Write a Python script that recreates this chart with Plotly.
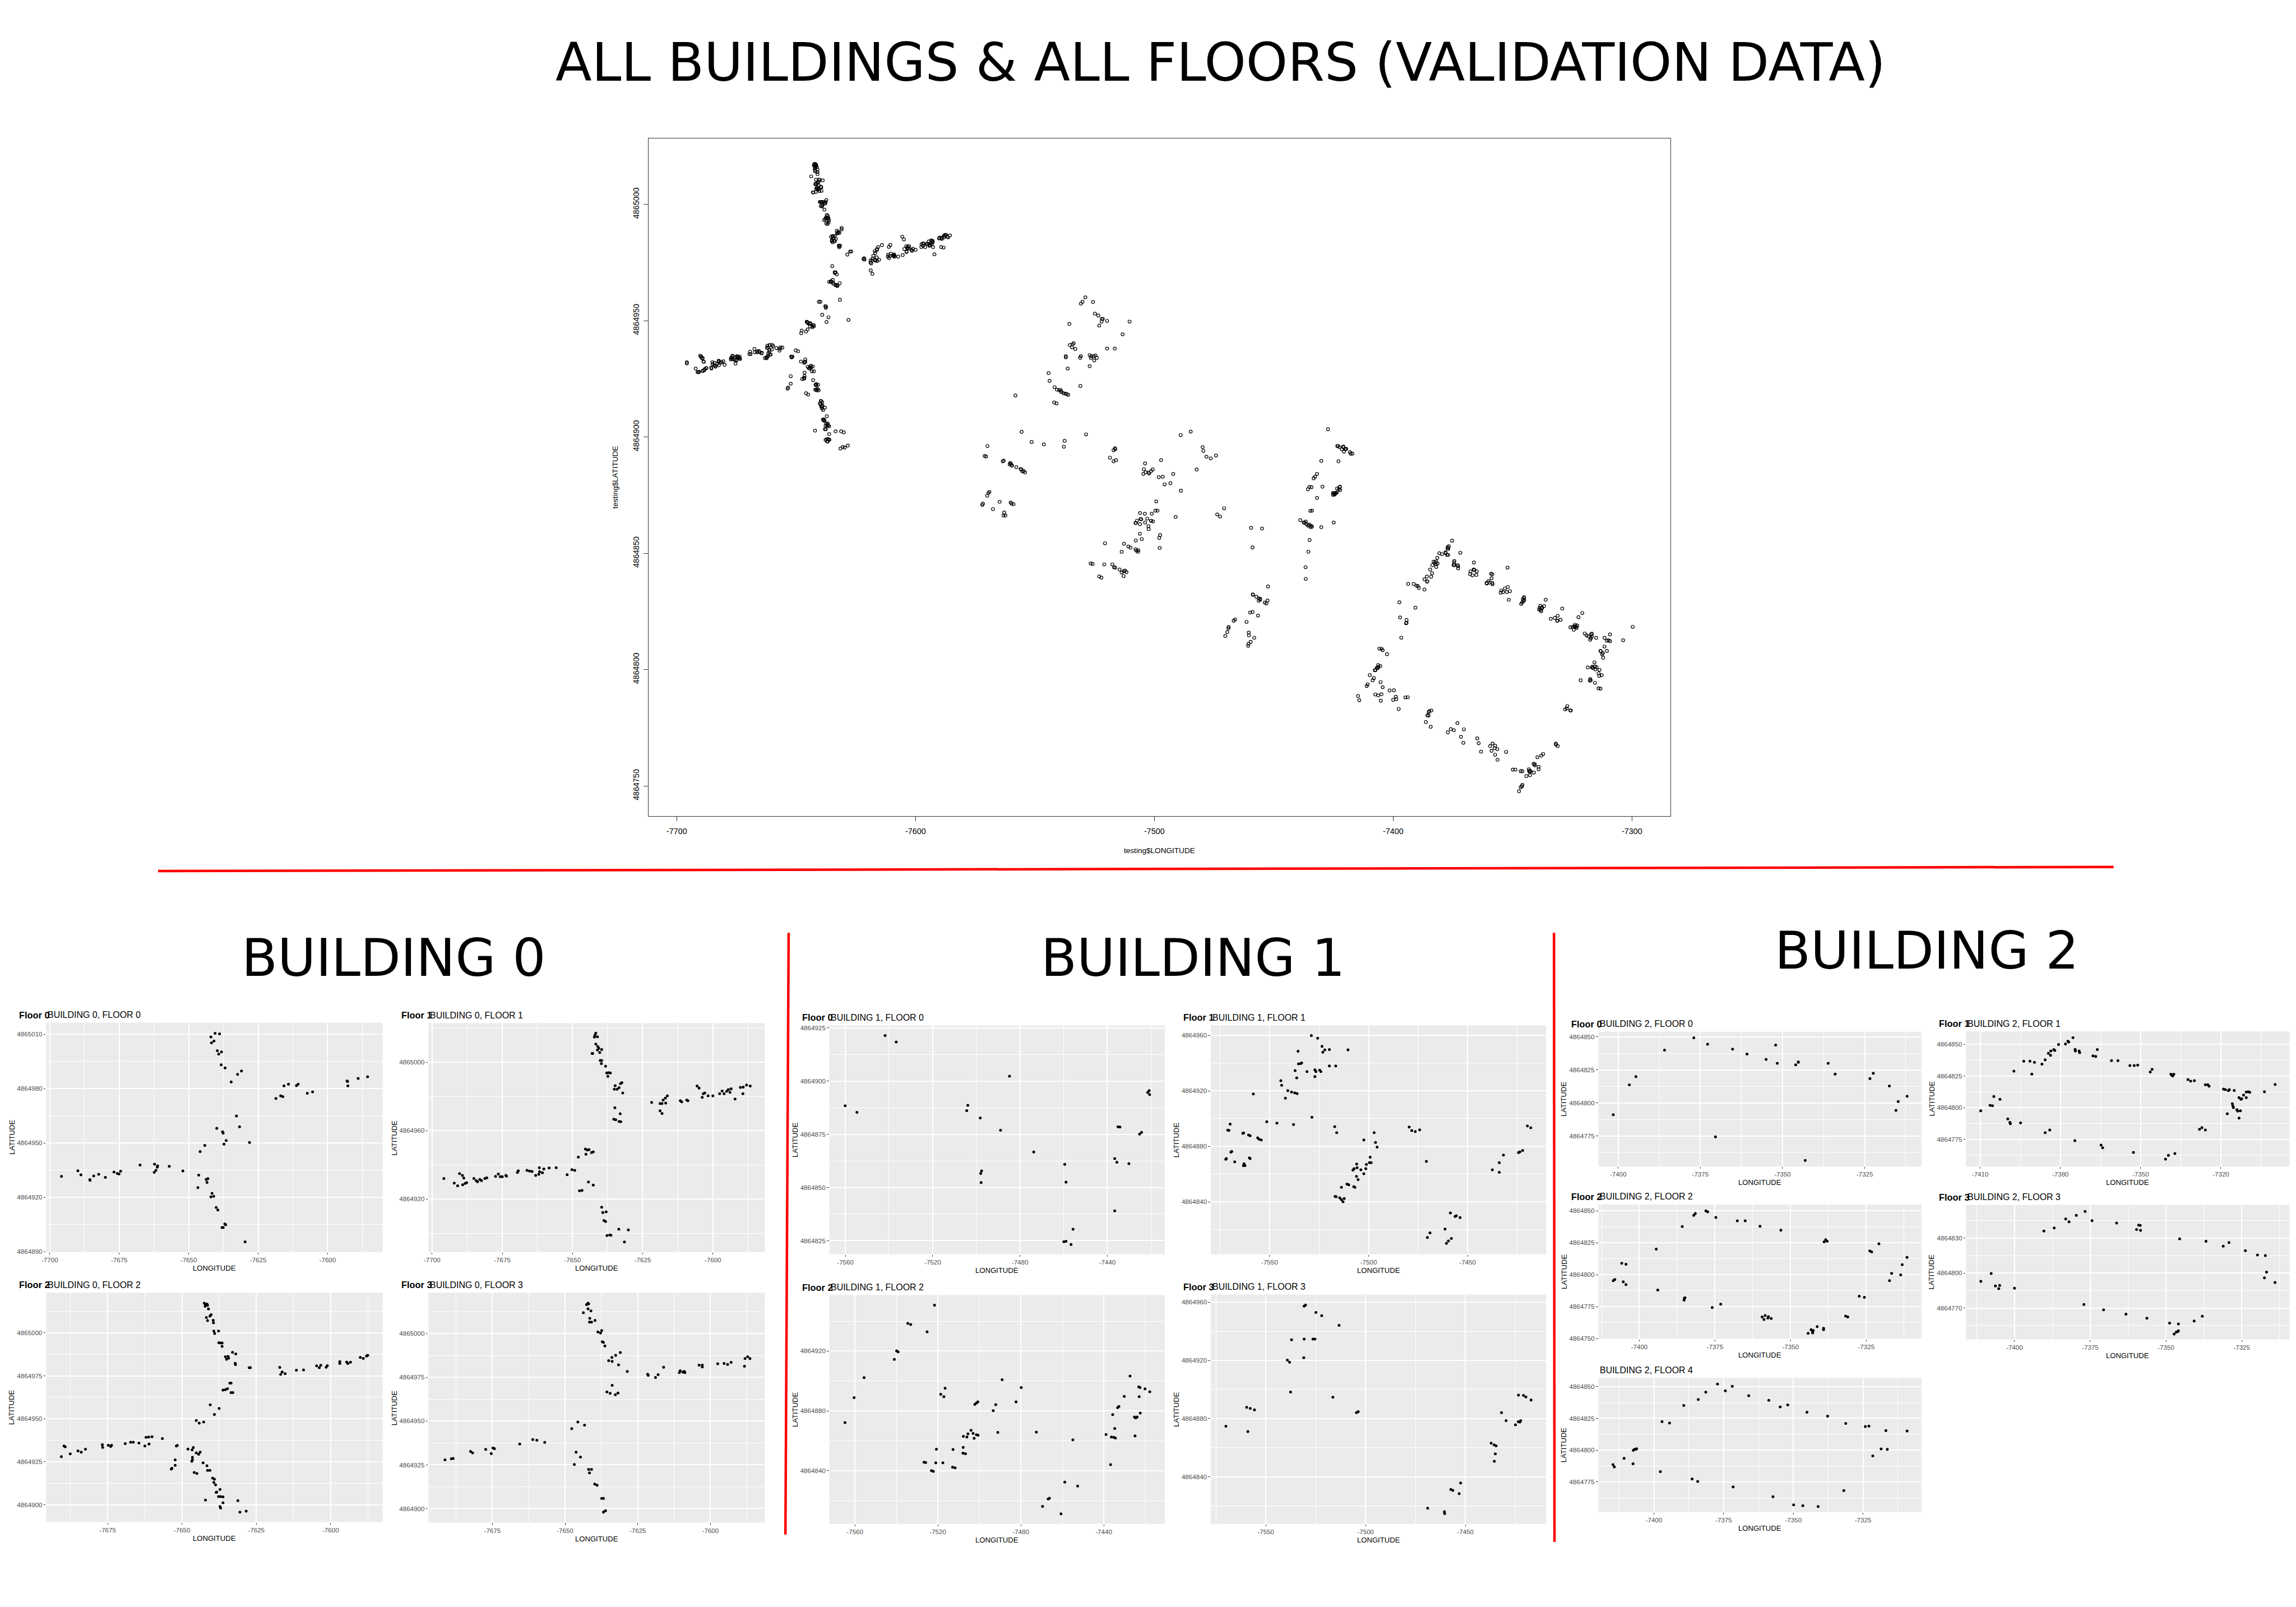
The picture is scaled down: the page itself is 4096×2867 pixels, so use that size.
import math
import plotly.graph_objects as go

# ---------------- DATA (longitude, latitude) ----------------
B0F0 = [(-7642.0, 4865008.6), (-7640.5, 4865010.6), (-7638.9, 4865010.3), (-7641.8, 4865005.3), (-7640.9, 4865006.3),
        (-7639.7, 4865001.0), (-7638.2, 4865000.3), (-7639.2, 4864999.1), (-7638.3, 4864993.2), (-7636.9, 4864991.5),
        (-7631.0, 4864989.8), (-7632.4, 4864987.9), (-7634.7, 4864983.7), (-7618.6, 4864974.6), (-7616.9, 4864976.1),
        (-7616.1, 4864975.6), (-7615.7, 4864981.6), (-7614.1, 4864982.5), (-7611.2, 4864981.7), (-7610.6, 4864982.5),
        (-7607.3, 4864977.5), (-7605.4, 4864978.2), (-7593.0, 4864984.3), (-7592.8, 4864984.0), (-7592.7, 4864981.6),
        (-7589.0, 4864985.7), (-7585.6, 4864986.6), (-7632.8, 4864964.9), (-7631.7, 4864959.0), (-7639.9, 4864958.1),
        (-7637.8, 4864956.2), (-7637.6, 4864955.5), (-7636.5, 4864951.4), (-7637.3, 4864949.4), (-7628.1, 4864950.3),
        (-7644.2, 4864948.7), (-7645.9, 4864945.3), (-7695.8, 4864931.6), (-7689.9, 4864934.7), (-7688.8, 4864932.4),
        (-7685.6, 4864929.8), (-7685.5, 4864929.4), (-7684.2, 4864931.8), (-7682.4, 4864932.7), (-7680.0, 4864931.0),
        (-7676.9, 4864934.0), (-7675.7, 4864933.2), (-7675.1, 4864932.9), (-7674.5, 4864934.4), (-7667.5, 4864937.8),
        (-7662.3, 4864938.3), (-7661.2, 4864937.4), (-7661.3, 4864936.7), (-7662.4, 4864933.8), (-7661.8, 4864934.9),
        (-7657.0, 4864937.1), (-7652.1, 4864934.6), (-7646.4, 4864932.3), (-7643.7, 4864929.9), (-7643.1, 4864930.3),
        (-7643.4, 4864928.2), (-7646.7, 4864925.4), (-7641.6, 4864922.2), (-7642.0, 4864920.3), (-7641.0, 4864920.6),
        (-7640.1, 4864914.4), (-7639.5, 4864913.0), (-7638.0, 4864903.3), (-7637.6, 4864903.3), (-7637.0, 4864905.3),
        (-7636.7, 4864904.9), (-7629.7, 4864895.4)]

B0F1 = [(-7641.7, 4865017.0), (-7642.0, 4865015.8), (-7642.2, 4865014.7), (-7641.1, 4865014.9), (-7641.7, 4865010.6),
        (-7641.0, 4865009.2), (-7640.6, 4865008.2), (-7641.1, 4865007.2), (-7640.3, 4865005.7), (-7639.6, 4865007.4),
        (-7643.0, 4865005.1), (-7642.8, 4865005.1), (-7640.1, 4865001.0), (-7639.6, 4865001.0), (-7639.7, 4864999.2),
        (-7638.2, 4864997.7), (-7637.8, 4864993.7), (-7637.2, 4864993.9), (-7636.5, 4864993.7), (-7637.4, 4864991.8),
        (-7634.8, 4864986.3), (-7635.1, 4864984.2), (-7634.1, 4864984.2), (-7633.4, 4864985.1), (-7632.9, 4864987.5),
        (-7632.4, 4864988.1), (-7632.1, 4864982.0), (-7634.9, 4864973.4), (-7633.0, 4864969.9), (-7635.3, 4864966.7),
        (-7634.6, 4864966.4), (-7633.4, 4864965.4), (-7632.8, 4864965.2), (-7621.8, 4864976.5), (-7618.8, 4864975.9),
        (-7618.1, 4864975.9), (-7617.7, 4864977.9), (-7616.9, 4864979.1), (-7616.2, 4864980.4), (-7616.8, 4864976.1),
        (-7618.8, 4864971.6), (-7618.1, 4864970.1), (-7611.6, 4864977.5), (-7611.1, 4864976.9), (-7609.3, 4864977.9),
        (-7608.9, 4864977.5), (-7605.6, 4864986.1), (-7604.9, 4864984.9), (-7603.4, 4864981.6), (-7602.9, 4864982.0),
        (-7603.8, 4864979.5), (-7601.7, 4864980.4), (-7600.0, 4864980.4), (-7597.6, 4864981.6), (-7596.7, 4864983.2),
        (-7596.0, 4864981.6), (-7595.1, 4864983.0), (-7594.5, 4864984.0), (-7593.9, 4864982.4), (-7593.5, 4864984.5),
        (-7592.1, 4864978.5), (-7590.2, 4864985.3), (-7589.2, 4864985.5), (-7589.3, 4864981.6), (-7588.0, 4864986.7),
        (-7586.7, 4864986.1), (-7647.9, 4864944.6), (-7645.4, 4864949.3), (-7644.7, 4864948.7), (-7644.1, 4864948.9),
        (-7645.2, 4864946.2), (-7643.2, 4864947.2), (-7642.6, 4864947.6), (-7695.8, 4864932.1), (-7692.1, 4864929.4),
        (-7690.9, 4864927.8), (-7690.2, 4864934.9), (-7689.2, 4864933.9), (-7688.7, 4864932.3), (-7689.1, 4864928.4),
        (-7688.2, 4864929.2), (-7687.7, 4864929.6), (-7685.1, 4864932.1), (-7684.3, 4864930.8), (-7683.8, 4864930.2),
        (-7683.0, 4864931.5), (-7682.4, 4864930.8), (-7681.2, 4864932.1), (-7680.5, 4864932.5), (-7677.4, 4864933.3),
        (-7676.4, 4864934.7), (-7675.7, 4864933.1), (-7675.0, 4864933.1), (-7673.7, 4864933.9), (-7673.5, 4864933.5),
        (-7669.6, 4864935.6), (-7669.3, 4864936.6), (-7666.2, 4864936.8), (-7665.3, 4864936.4), (-7664.4, 4864936.2),
        (-7663.1, 4864933.9), (-7662.0, 4864934.5), (-7661.8, 4864938.4), (-7661.7, 4864936.0), (-7660.7, 4864935.4),
        (-7660.2, 4864937.6), (-7658.3, 4864938.2), (-7655.8, 4864938.4), (-7651.9, 4864934.3), (-7650.2, 4864937.2),
        (-7649.2, 4864936.8), (-7647.5, 4864924.9), (-7646.6, 4864925.1), (-7644.3, 4864930.0), (-7642.6, 4864928.2),
        (-7639.6, 4864915.3), (-7639.2, 4864912.2), (-7638.0, 4864912.6), (-7638.8, 4864907.5), (-7638.2, 4864906.9),
        (-7637.7, 4864898.7), (-7636.7, 4864899.1), (-7636.3, 4864898.9), (-7633.5, 4864902.4), (-7630.1, 4864902.0),
        (-7631.5, 4864895.0)]

B0F2 = [(-7642.5, 4865017.2), (-7642.1, 4865016.4), (-7641.6, 4865016.7), (-7641.4, 4865016.0), (-7642.2, 4865015.4),
        (-7641.1, 4865013.9), (-7640.6, 4865009.7), (-7640.2, 4865010.5), (-7641.8, 4865008.9), (-7641.4, 4865007.1),
        (-7639.5, 4865007.3), (-7639.4, 4865005.8), (-7639.3, 4865001.0), (-7639.0, 4864999.6), (-7637.7, 4865001.0),
        (-7637.6, 4864994.2), (-7637.0, 4864994.1), (-7636.5, 4864994.1), (-7636.5, 4864992.1), (-7633.0, 4864988.6),
        (-7631.9, 4864987.7), (-7635.4, 4864986.1), (-7635.0, 4864984.6), (-7634.5, 4864986.3), (-7634.3, 4864985.3),
        (-7632.1, 4864982.3), (-7632.0, 4864981.5), (-7627.4, 4864979.7), (-7627.0, 4864979.7), (-7617.1, 4864979.9),
        (-7616.8, 4864975.8), (-7616.3, 4864977.2), (-7615.3, 4864976.2), (-7611.5, 4864978.3), (-7609.1, 4864978.4),
        (-7604.7, 4864980.8), (-7603.8, 4864979.7), (-7603.3, 4864981.1), (-7601.5, 4864980.0), (-7601.1, 4864980.9),
        (-7596.9, 4864983.2), (-7596.9, 4864982.2), (-7594.6, 4864983.0), (-7594.2, 4864982.2), (-7593.3, 4864982.9),
        (-7590.0, 4864985.7), (-7589.0, 4864985.1), (-7587.9, 4864986.5), (-7587.5, 4864986.9), (-7633.5, 4864970.8),
        (-7633.9, 4864970.8), (-7636.2, 4864966.7), (-7635.4, 4864966.9), (-7634.7, 4864967.5), (-7633.5, 4864965.2),
        (-7632.9, 4864965.2), (-7640.5, 4864958.1), (-7637.5, 4864956.0), (-7639.1, 4864952.5), (-7645.2, 4864949.0),
        (-7644.2, 4864947.5), (-7642.7, 4864948.1), (-7690.6, 4864928.0), (-7689.7, 4864934.2), (-7689.3, 4864933.7),
        (-7687.6, 4864929.6), (-7685.0, 4864931.3), (-7683.9, 4864930.6), (-7682.5, 4864932.3), (-7676.8, 4864934.9),
        (-7676.7, 4864933.4), (-7674.8, 4864934.6), (-7674.0, 4864933.9), (-7673.7, 4864934.6), (-7669.1, 4864935.6),
        (-7667.3, 4864936.4), (-7666.4, 4864936.4), (-7664.5, 4864935.9), (-7662.5, 4864934.2), (-7662.1, 4864939.2),
        (-7661.2, 4864939.4), (-7661.1, 4864935.3), (-7660.1, 4864939.6), (-7656.6, 4864938.5), (-7651.9, 4864934.2),
        (-7651.6, 4864934.5), (-7652.3, 4864926.1), (-7652.3, 4864922.9), (-7653.6, 4864920.7), (-7653.4, 4864921.2),
        (-7648.0, 4864932.4), (-7646.6, 4864931.9), (-7646.2, 4864933.3), (-7646.5, 4864927.6), (-7646.7, 4864925.3),
        (-7646.5, 4864926.1), (-7645.2, 4864930.2), (-7644.4, 4864929.4), (-7643.9, 4864930.6), (-7645.9, 4864918.8),
        (-7645.0, 4864918.2), (-7642.9, 4864924.4), (-7641.6, 4864922.7), (-7641.4, 4864920.0), (-7640.6, 4864920.0),
        (-7639.7, 4864915.5), (-7639.1, 4864914.9), (-7639.3, 4864913.0), (-7638.7, 4864911.6), (-7637.2, 4864908.9),
        (-7638.5, 4864907.2), (-7638.3, 4864907.4), (-7637.7, 4864904.8), (-7637.0, 4864904.8), (-7636.2, 4864904.6),
        (-7636.2, 4864901.2), (-7637.2, 4864899.0), (-7637.0, 4864898.1), (-7642.1, 4864902.7), (-7631.2, 4864902.4),
        (-7630.5, 4864895.7), (-7628.4, 4864896.3)]

B0F3 = [(-7642.1, 4865017.4), (-7642.6, 4865016.6), (-7641.9, 4865017.0), (-7642.1, 4865014.2), (-7641.1, 4865013.0),
        (-7643.7, 4865012.0), (-7641.5, 4865008.8), (-7641.6, 4865006.6), (-7640.9, 4865006.6), (-7639.7, 4865007.6),
        (-7638.7, 4865001.0), (-7637.8, 4865000.4), (-7637.4, 4865001.8), (-7637.2, 4864995.4), (-7636.8, 4864995.0),
        (-7636.3, 4864993.0), (-7635.0, 4864984.6), (-7633.9, 4864986.4), (-7633.8, 4864984.2), (-7632.6, 4864987.6),
        (-7631.6, 4864982.2), (-7631.0, 4864989.2), (-7628.6, 4864978.4), (-7635.6, 4864966.7), (-7634.5, 4864965.9),
        (-7633.8, 4864970.5), (-7632.7, 4864965.1), (-7631.8, 4864966.1), (-7621.6, 4864976.8), (-7621.4, 4864976.2),
        (-7618.9, 4864975.0), (-7618.0, 4864976.6), (-7616.1, 4864980.8), (-7610.7, 4864977.8), (-7610.4, 4864978.8),
        (-7609.5, 4864978.0), (-7609.0, 4864978.4), (-7608.8, 4864977.8), (-7603.9, 4864982.0), (-7602.8, 4864982.0),
        (-7602.8, 4864981.0), (-7597.5, 4864982.8), (-7595.3, 4864983.0), (-7594.1, 4864982.4), (-7592.9, 4864983.6),
        (-7588.3, 4864981.4), (-7588.1, 4864985.8), (-7587.2, 4864986.8), (-7586.4, 4864985.8), (-7647.7, 4864945.7),
        (-7645.6, 4864949.5), (-7643.3, 4864947.7), (-7691.3, 4864927.9), (-7689.1, 4864928.5), (-7688.5, 4864928.7),
        (-7682.5, 4864932.7), (-7681.8, 4864931.9), (-7677.3, 4864933.9), (-7675.4, 4864931.5), (-7674.8, 4864934.7),
        (-7674.3, 4864934.3), (-7665.6, 4864936.9), (-7661.1, 4864939.5), (-7659.7, 4864939.1), (-7657.0, 4864937.9),
        (-7646.2, 4864932.3), (-7644.7, 4864929.5), (-7646.8, 4864925.2), (-7641.9, 4864922.4), (-7640.9, 4864922.4),
        (-7641.6, 4864920.4), (-7639.8, 4864914.0), (-7639.0, 4864913.4), (-7637.4, 4864905.8), (-7636.8, 4864905.8),
        (-7636.8, 4864898.0), (-7636.1, 4864898.8)]

B1F0 = [(-7541.8, 4864921.4), (-7536.7, 4864918.4), (-7560.1, 4864888.4), (-7554.7, 4864885.3), (-7503.9, 4864888.6),
        (-7504.4, 4864886.1), (-7498.2, 4864882.7), (-7484.8, 4864902.3), (-7488.9, 4864876.9), (-7473.7, 4864866.7),
        (-7497.6, 4864857.8), (-7498.0, 4864856.6), (-7497.8, 4864852.3), (-7459.5, 4864860.9), (-7458.9, 4864852.5),
        (-7455.7, 4864830.4), (-7459.9, 4864824.5), (-7458.9, 4864824.7), (-7456.6, 4864823.2), (-7436.6, 4864863.6),
        (-7435.6, 4864861.9), (-7430.1, 4864861.2), (-7436.6, 4864839.0), (-7435.1, 4864878.5), (-7434.2, 4864878.4),
        (-7425.2, 4864875.1), (-7424.3, 4864875.9), (-7421.5, 4864894.7), (-7420.8, 4864895.5), (-7420.6, 4864893.7)]

B1F1 = [(-7528.9, 4864960.0), (-7525.7, 4864958.0), (-7523.5, 4864952.2), (-7523.1, 4864947.9), (-7522.1, 4864949.6),
        (-7519.8, 4864949.9), (-7510.4, 4864949.6), (-7535.6, 4864948.6), (-7535.4, 4864939.5), (-7534.3, 4864939.8),
        (-7533.8, 4864940.3), (-7537.1, 4864934.7), (-7536.3, 4864929.4), (-7531.1, 4864934.0), (-7527.1, 4864935.2),
        (-7526.6, 4864934.0), (-7527.1, 4864930.4), (-7524.7, 4864935.0), (-7524.1, 4864934.0), (-7519.8, 4864938.0),
        (-7516.6, 4864938.0), (-7544.3, 4864927.4), (-7543.9, 4864924.1), (-7540.8, 4864920.3), (-7538.9, 4864919.3),
        (-7537.3, 4864918.6), (-7536.1, 4864918.1), (-7542.0, 4864914.8), (-7528.6, 4864901.1), (-7558.2, 4864917.8),
        (-7551.4, 4864897.8), (-7546.3, 4864896.8), (-7537.9, 4864895.8), (-7569.9, 4864896.1), (-7571.1, 4864891.8),
        (-7570.5, 4864891.6), (-7563.5, 4864889.5), (-7563.1, 4864889.8), (-7560.6, 4864888.2), (-7559.8, 4864887.7),
        (-7556.0, 4864886.2), (-7555.3, 4864885.2), (-7554.2, 4864884.7), (-7569.1, 4864876.4), (-7569.5, 4864875.9),
        (-7571.8, 4864871.3), (-7572.1, 4864870.8), (-7567.6, 4864869.0), (-7562.9, 4864867.5), (-7563.2, 4864866.2),
        (-7562.4, 4864866.2), (-7560.2, 4864871.8), (-7559.8, 4864871.3), (-7517.1, 4864894.3), (-7516.1, 4864890.0),
        (-7502.4, 4864884.7), (-7497.2, 4864890.0), (-7496.5, 4864882.9), (-7495.7, 4864879.6), (-7499.2, 4864872.3),
        (-7499.6, 4864868.3), (-7498.7, 4864868.3), (-7501.1, 4864867.0), (-7501.4, 4864864.0), (-7502.4, 4864860.4),
        (-7503.9, 4864863.2), (-7506.0, 4864867.3), (-7505.8, 4864864.7), (-7507.3, 4864864.0), (-7507.9, 4864863.0),
        (-7506.1, 4864858.4), (-7505.3, 4864856.1), (-7510.9, 4864852.9), (-7510.0, 4864852.4), (-7507.5, 4864851.1),
        (-7506.9, 4864850.6), (-7513.7, 4864850.6), (-7516.9, 4864844.0), (-7516.4, 4864843.8), (-7514.6, 4864843.0),
        (-7513.7, 4864841.7), (-7512.9, 4864840.2), (-7512.3, 4864842.5), (-7479.5, 4864894.0), (-7478.2, 4864891.5),
        (-7476.4, 4864890.8), (-7474.2, 4864892.0), (-7470.8, 4864869.3), (-7458.7, 4864832.1), (-7456.3, 4864829.6),
        (-7455.7, 4864830.1), (-7453.8, 4864828.8), (-7461.4, 4864820.5), (-7458.2, 4864813.7), (-7459.7, 4864811.9),
        (-7460.7, 4864810.2), (-7469.0, 4864817.7), (-7470.3, 4864814.4), (-7437.5, 4864863.2), (-7434.0, 4864868.3),
        (-7434.0, 4864861.4), (-7431.9, 4864873.8), (-7424.3, 4864875.6), (-7423.6, 4864876.1), (-7422.2, 4864877.1),
        (-7419.8, 4864894.8), (-7418.1, 4864893.5)]

B1F2 = [(-7521.6, 4864950.7), (-7534.5, 4864938.5), (-7533.1, 4864937.8), (-7525.2, 4864932.9), (-7539.9, 4864920.2),
        (-7539.2, 4864919.5), (-7541.0, 4864914.4), (-7555.6, 4864902.2), (-7560.4, 4864888.8), (-7564.8, 4864872.1),
        (-7516.5, 4864895.1), (-7518.6, 4864891.1), (-7517.1, 4864889.5), (-7502.2, 4864884.3), (-7501.4, 4864885.3),
        (-7500.7, 4864886.0), (-7493.3, 4864880.1), (-7492.1, 4864884.1), (-7489.0, 4864900.8), (-7491.1, 4864865.6),
        (-7482.3, 4864886.0), (-7479.8, 4864895.6), (-7472.5, 4864865.8), (-7507.7, 4864863.0), (-7506.0, 4864862.5),
        (-7505.5, 4864864.6), (-7504.0, 4864867.0), (-7503.0, 4864864.9), (-7502.5, 4864861.6), (-7501.4, 4864864.0),
        (-7500.6, 4864863.7), (-7507.8, 4864855.5), (-7507.9, 4864851.7), (-7506.7, 4864851.3), (-7512.7, 4864854.1),
        (-7520.7, 4864854.3), (-7526.7, 4864845.6), (-7525.9, 4864845.4), (-7521.0, 4864845.2), (-7517.6, 4864845.2),
        (-7512.9, 4864842.3), (-7511.7, 4864841.9), (-7523.1, 4864840.0), (-7522.2, 4864839.5), (-7469.5, 4864816.1),
        (-7466.8, 4864821.0), (-7466.2, 4864821.5), (-7460.6, 4864811.1), (-7458.8, 4864832.3), (-7452.6, 4864829.7),
        (-7454.9, 4864860.6), (-7438.9, 4864864.2), (-7436.3, 4864862.5), (-7435.1, 4864862.3), (-7434.4, 4864861.8),
        (-7434.7, 4864868.2), (-7435.7, 4864877.5), (-7436.7, 4864844.0), (-7433.3, 4864882.2), (-7432.7, 4864882.9),
        (-7430.1, 4864889.7), (-7427.3, 4864903.3), (-7425.2, 4864875.9), (-7424.6, 4864875.2), (-7423.9, 4864875.9),
        (-7422.4, 4864878.5), (-7424.9, 4864863.2), (-7422.9, 4864889.5), (-7423.1, 4864896.1), (-7422.5, 4864895.6),
        (-7420.1, 4864894.7), (-7417.8, 4864892.8)]

B1F3 = [(-7530.8, 4864957.3), (-7530.1, 4864958.1), (-7524.9, 4864953.0), (-7522.0, 4864950.8), (-7513.3, 4864944.1),
        (-7537.1, 4864934.2), (-7530.8, 4864934.7), (-7526.4, 4864934.7), (-7525.4, 4864934.7), (-7539.2, 4864920.2),
        (-7538.1, 4864918.8), (-7531.0, 4864921.9), (-7537.6, 4864898.3), (-7516.4, 4864894.7), (-7504.6, 4864884.1),
        (-7503.7, 4864884.8), (-7570.0, 4864874.7), (-7559.6, 4864887.7), (-7557.8, 4864887.0), (-7555.7, 4864886.0),
        (-7559.0, 4864871.1), (-7468.9, 4864818.3), (-7460.5, 4864815.9), (-7460.4, 4864814.7), (-7457.3, 4864831.3),
        (-7456.3, 4864830.6), (-7453.1, 4864828.4), (-7452.4, 4864835.7), (-7437.1, 4864863.1), (-7435.6, 4864861.9),
        (-7434.6, 4864861.2), (-7435.0, 4864855.7), (-7435.5, 4864850.6), (-7431.9, 4864884.1), (-7429.6, 4864878.6),
        (-7424.9, 4864875.7), (-7423.5, 4864877.8), (-7422.7, 4864877.6), (-7422.3, 4864878.6), (-7423.4, 4864896.1),
        (-7420.9, 4864895.9), (-7419.7, 4864894.9), (-7417.1, 4864892.8)]

B2F0 = [(-7401.5, 4864791.0), (-7396.6, 4864813.7), (-7394.6, 4864819.9), (-7385.9, 4864840.0), (-7377.0, 4864849.3),
        (-7372.8, 4864844.4), (-7370.4, 4864774.3), (-7365.2, 4864840.7), (-7360.8, 4864837.0), (-7355.0, 4864833.0),
        (-7352.1, 4864843.8), (-7351.6, 4864830.0), (-7346.0, 4864828.8), (-7345.2, 4864830.8), (-7345.2, 4864831.1),
        (-7343.1, 4864756.4), (-7336.1, 4864830.0), (-7334.0, 4864821.8), (-7323.4, 4864818.4), (-7322.4, 4864822.5),
        (-7317.5, 4864812.8), (-7314.8, 4864801.0), (-7315.5, 4864794.3), (-7312.1, 4864805.1)]

B2F1 = [(-7409.8, 4864797.6), (-7406.3, 4864801.9), (-7405.4, 4864801.5), (-7404.9, 4864808.9), (-7402.6, 4864806.6),
        (-7399.7, 4864791.1), (-7398.9, 4864788.3), (-7398.7, 4864787.3), (-7394.9, 4864788.0), (-7397.4, 4864828.9),
        (-7393.7, 4864836.8), (-7391.4, 4864836.8), (-7389.7, 4864835.9), (-7390.7, 4864826.6), (-7386.9, 4864834.4),
        (-7385.7, 4864837.9), (-7384.5, 4864843.0), (-7383.6, 4864844.9), (-7383.7, 4864841.4), (-7382.5, 4864846.0),
        (-7382.1, 4864845.3), (-7380.7, 4864850.0), (-7378.1, 4864850.4), (-7377.2, 4864852.6), (-7376.9, 4864851.9),
        (-7375.3, 4864855.4), (-7374.5, 4864846.1), (-7374.4, 4864844.9), (-7373.0, 4864844.9), (-7372.8, 4864843.5),
        (-7366.2, 4864846.0), (-7367.8, 4864841.0), (-7366.8, 4864840.5), (-7385.7, 4864780.3), (-7384.0, 4864782.4),
        (-7374.6, 4864773.9), (-7364.8, 4864770.4), (-7364.2, 4864768.3), (-7352.7, 4864764.6), (-7360.9, 4864837.2),
        (-7358.5, 4864837.2), (-7354.0, 4864833.3), (-7352.4, 4864833.3), (-7351.1, 4864833.7), (-7346.4, 4864828.2),
        (-7345.7, 4864830.3), (-7338.7, 4864826.5), (-7338.3, 4864825.6), (-7337.6, 4864826.5), (-7338.0, 4864825.1),
        (-7340.7, 4864759.3), (-7339.6, 4864762.3), (-7337.2, 4864763.7), (-7332.3, 4864822.2), (-7331.3, 4864821.0),
        (-7329.9, 4864821.4), (-7325.8, 4864818.2), (-7324.9, 4864818.2), (-7324.4, 4864817.1), (-7328.0, 4864782.9),
        (-7327.1, 4864784.3), (-7325.8, 4864782.4), (-7319.0, 4864814.7), (-7318.3, 4864814.3), (-7317.2, 4864813.5),
        (-7316.8, 4864814.3), (-7315.0, 4864813.6), (-7317.6, 4864795.2), (-7315.7, 4864803.1), (-7315.5, 4864801.3),
        (-7315.3, 4864800.1), (-7314.0, 4864798.4), (-7313.7, 4864797.3), (-7312.7, 4864797.6), (-7313.2, 4864791.8),
        (-7313.2, 4864808.0), (-7312.5, 4864806.6), (-7312.2, 4864807.1), (-7311.5, 4864809.9), (-7310.5, 4864808.0),
        (-7310.5, 4864812.4), (-7309.8, 4864812.6), (-7309.2, 4864812.2), (-7303.7, 4864812.6), (-7299.7, 4864818.4)]

B2F2 = [(-7408.6, 4864795.4), (-7408.1, 4864796.3), (-7405.8, 4864809.0), (-7404.4, 4864808.3), (-7405.3, 4864794.6),
        (-7404.4, 4864792.4), (-7394.4, 4864820.1), (-7393.9, 4864788.1), (-7385.8, 4864837.8), (-7385.2, 4864780.2),
        (-7385.1, 4864781.7), (-7384.9, 4864782.1), (-7382.0, 4864846.5), (-7381.5, 4864848.0), (-7378.0, 4864850.0),
        (-7377.4, 4864849.3), (-7374.7, 4864844.9), (-7375.9, 4864774.4), (-7373.1, 4864777.0), (-7367.6, 4864842.2),
        (-7365.0, 4864842.2), (-7360.1, 4864838.0), (-7353.2, 4864834.9), (-7359.4, 4864767.1), (-7358.8, 4864765.1),
        (-7358.4, 4864768.2), (-7357.5, 4864766.2), (-7357.3, 4864767.3), (-7356.4, 4864765.8), (-7344.2, 4864754.2),
        (-7343.2, 4864757.1), (-7342.8, 4864756.0), (-7342.7, 4864754.6), (-7342.5, 4864756.4), (-7341.2, 4864759.5),
        (-7339.1, 4864758.2), (-7339.1, 4864757.1), (-7338.9, 4864825.8), (-7338.4, 4864827.4), (-7337.9, 4864826.3),
        (-7331.8, 4864767.7), (-7331.1, 4864767.1), (-7327.3, 4864783.3), (-7325.6, 4864782.4), (-7323.8, 4864818.7),
        (-7323.2, 4864817.9), (-7320.8, 4864824.3), (-7317.3, 4864795.4), (-7316.6, 4864801.2), (-7313.6, 4864799.9),
        (-7313.1, 4864807.9), (-7311.5, 4864813.6)]

B2F3 = [(-7411.1, 4864792.9), (-7407.7, 4864799.7), (-7406.3, 4864788.9), (-7405.2, 4864786.6), (-7404.9, 4864789.4),
        (-7400.0, 4864787.0), (-7390.3, 4864836.1), (-7386.9, 4864838.8), (-7383.1, 4864846.4), (-7382.0, 4864844.1),
        (-7379.6, 4864849.6), (-7376.7, 4864853.0), (-7374.4, 4864845.0), (-7366.3, 4864843.0), (-7359.7, 4864837.4),
        (-7359.0, 4864841.2), (-7358.5, 4864840.9), (-7358.4, 4864836.7), (-7377.1, 4864773.0), (-7370.6, 4864768.5),
        (-7363.2, 4864764.7), (-7356.3, 4864761.2), (-7348.8, 4864757.0), (-7347.3, 4864747.7), (-7346.6, 4864749.4),
        (-7346.1, 4864749.8), (-7345.9, 4864750.4), (-7345.9, 4864756.3), (-7345.5, 4864829.4), (-7340.7, 4864758.8),
        (-7338.0, 4864763.0), (-7336.8, 4864827.3), (-7331.1, 4864823.1), (-7329.2, 4864826.2), (-7323.8, 4864819.3),
        (-7319.8, 4864815.5), (-7317.2, 4864815.1), (-7316.8, 4864800.9), (-7317.5, 4864795.9), (-7314.0, 4864791.9)]

B2F4 = [(-7414.7, 4864788.6), (-7414.2, 4864786.8), (-7410.7, 4864793.6), (-7407.5, 4864789.3), (-7407.4, 4864799.8),
        (-7406.9, 4864800.7), (-7406.5, 4864800.7), (-7406.2, 4864801.1), (-7397.7, 4864783.1), (-7397.1, 4864822.4),
        (-7394.4, 4864821.3), (-7389.3, 4864835.1), (-7386.3, 4864777.4), (-7384.3, 4864775.4), (-7384.1, 4864839.9),
        (-7381.4, 4864845.6), (-7377.2, 4864852.0), (-7374.4, 4864846.7), (-7371.9, 4864850.2), (-7371.6, 4864771.1),
        (-7366.0, 4864842.8), (-7358.8, 4864839.2), (-7357.3, 4864763.4), (-7354.7, 4864834.0), (-7352.0, 4864835.5),
        (-7349.9, 4864757.0), (-7346.6, 4864756.3), (-7341.1, 4864755.7), (-7345.1, 4864829.8), (-7337.7, 4864826.7),
        (-7331.9, 4864768.2), (-7331.2, 4864821.0), (-7324.2, 4864818.6), (-7322.9, 4864818.9), (-7321.5, 4864795.4),
        (-7318.5, 4864800.9), (-7316.3, 4864800.6), (-7316.8, 4864815.4), (-7309.2, 4864815.1)]

MAIN_XTICKS = [-7700, -7600, -7500, -7400, -7300]
MAIN_YTICKS = [4864750, 4864800, 4864850, 4864900, 4864950, 4865000]

MAIN_TITLE = "ALL BUILDINGS &amp; ALL FLOORS (VALIDATION DATA)"
BUILDING_HEADINGS = ["BUILDING 0", "BUILDING 1", "BUILDING 2"]

# ---------------- LAYOUT (reference pixel geometry, 5000 x 3500) ----------------
S = 0.819
W, H = 4096, 2867
RW, RH = 5000.0, 3500.0


def px(x):
    return x / RW


def py(y):
    return 1 - y / RH


# (points, title, floor-label, panel box l,t,r,b, xrange, yrange, xstep, ystep)
PANELS = [
    (B0F0, "BUILDING 0, FLOOR 0", "Floor 0", (91, 2231, 825, 2732), (-7701.3, -7580.2), (4864889.8, 4865016.5), 25, 30),
    (B0F1, "BUILDING 0, FLOOR 1", "Floor 1", (925, 2232, 1659, 2732), (-7701.3, -7581.5), (4864889.1, 4865022.9), 25, 40),
    (B0F2, "BUILDING 0, FLOOR 2", "Floor 2", (91, 2821, 825, 3322), (-7695.7, -7582.5), (4864889.9, 4865023.3), 25, 25),
    (B0F3, "BUILDING 0, FLOOR 3", "Floor 3", (925, 2821, 1659, 3323), (-7697.0, -7581.3), (4864892.0, 4865023.4), 25, 25),
    (B1F0, "BUILDING 1, FLOOR 0", "Floor 0", (1800, 2237, 2532, 2737), (-7567.3, -7413.6), (4864818.6, 4864926.2), 40, 25),
    (B1F1, "BUILDING 1, FLOOR 1", "Floor 1", (2632, 2237, 3364, 2737), (-7579.7, -7410.3), (4864802.3, 4864967.3), 50, 40),
    (B1F2, "BUILDING 1, FLOOR 2", "Floor 2", (1800, 2826, 2532, 3326), (-7572.3, -7410.5), (4864804.3, 4864957.5), 40, 40),
    (B1F3, "BUILDING 1, FLOOR 3", "Floor 3", (2632, 2825, 3364, 3326), (-7577.6, -7409.5), (4864807.5, 4864965.3), 50, 40),
    (B2F0, "BUILDING 2, FLOOR 0", "Floor 0", (3478, 2251, 4183, 2545), (-7406.0, -7307.7), (4864751.9, 4864853.9), 25, 25),
    (B2F1, "BUILDING 2, FLOOR 1", "Floor 1", (4280, 2250, 4986, 2545), (-7415.3, -7294.3), (4864753.6, 4864860.4), 30, 25),
    (B2F2, "BUILDING 2, FLOOR 2", "Floor 2", (3478, 2628, 4183, 2922), (-7413.5, -7306.7), (4864749.8, 4864855.1), 25, 25),
    (B2F3, "BUILDING 2, FLOOR 3", "Floor 3", (4280, 2629, 4986, 2923), (-7416.0, -7309.2), (4864743.0, 4864858.6), 25, 30),
    (B2F4, "BUILDING 2, FLOOR 4", None, (3478, 3007, 4183, 3300), (-7419.9, -7304.0), (4864751.3, 4864856.8), 25, 25),
]


def major_ticks(lo, hi, step):
    v = math.ceil(lo / step) * step
    out = []
    while v <= hi + 1e-9:
        out.append(v)
        v += step
    return out


def minor_ticks(lo, hi, step):
    v = math.floor(lo / step) * step + step / 2.0
    out = []
    while v <= hi + 1e-9:
        if v >= lo:
            out.append(v)
        v += step
    return out


fig = go.Figure()
layout = dict(
    width=W, height=H, autosize=False,
    margin=dict(l=0, r=0, t=0, b=0, pad=0),
    paper_bgcolor="white", plot_bgcolor="rgba(0,0,0,0)",
    showlegend=False,
    font=dict(family="Liberation Sans, Arial, sans-serif", color="black"),
)
shapes = []
annotations = []

# ---------------- main scatter (all buildings, all floors) ----------------
all_pts = B0F0 + B0F1 + B0F2 + B0F3 + B1F0 + B1F1 + B1F2 + B1F3 + B2F0 + B2F1 + B2F2 + B2F3 + B2F4
fig.add_trace(go.Scatter(
    x=[p[0] for p in all_pts], y=[p[1] for p in all_pts], mode="markers",
    marker=dict(symbol="circle-open", size=5.4, color="black", line=dict(width=1.2, color="black")),
    xaxis="x", yaxis="y", hoverinfo="skip"))

main_tick_font = dict(family="Liberation Sans, Arial, sans-serif", size=17.5 * S, color="black")
layout["xaxis"] = dict(
    domain=[px(1405), px(3635)], range=[-7711.9, -7283.9], anchor="y",
    tickmode="array", tickvals=MAIN_XTICKS, ticktext=[str(v) for v in MAIN_XTICKS],
    ticks="outside", ticklen=8, tickwidth=1, tickcolor="#333333", ticklabelstandoff=6,
    showline=True, mirror=True, linecolor="#333333", linewidth=1.3,
    showgrid=False, zeroline=False, tickfont=main_tick_font)
layout["yaxis"] = dict(
    domain=[py(1780), py(300)], range=[4864737.0, 4865028.3], anchor="x",
    tickmode="array", tickvals=MAIN_YTICKS, ticktext=[str(v) for v in MAIN_YTICKS],
    tickangle=-90, ticks="outside", ticklen=8, tickwidth=1, tickcolor="#333333", ticklabelstandoff=2,
    showline=True, mirror=True, linecolor="#333333", linewidth=1.3,
    showgrid=False, zeroline=False, tickfont=main_tick_font)

annotations.append(dict(text=MAIN_TITLE, x=px(2653), y=py(134), xref="paper", yref="paper",
                        xanchor="center", yanchor="middle", showarrow=False,
                        font=dict(family="DejaVu Sans", size=115.5 * S, color="black")))
annotations.append(dict(text="testing$LONGITUDE", x=px(2520), y=py(1855), xref="paper", yref="paper",
                        xanchor="center", yanchor="middle", showarrow=False,
                        font=dict(family="Liberation Sans", size=16.6 * S, color="black")))
annotations.append(dict(text="testing$LATITUDE", x=px(1332), y=py(1040), xref="paper", yref="paper",
                        xanchor="center", yanchor="middle", showarrow=False, textangle=-90,
                        font=dict(family="Liberation Sans", size=16.6 * S, color="black")))

# building headings
for text, cx, cy in zip(BUILDING_HEADINGS, [850, 2594, 4195], [2089, 2089, 2073]):
    annotations.append(dict(text=text, x=px(cx), y=py(cy), xref="paper", yref="paper",
                            xanchor="center", yanchor="middle", showarrow=False,
                            font=dict(family="DejaVu Sans", size=114 * S, color="black")))

# red separators
red = dict(color="#FF0000", width=4.5)
shapes.append(dict(type="line", xref="paper", yref="paper", x0=px(335), y0=py(1900), x1=px(4602), y1=py(1891), line=red))
shapes.append(dict(type="line", xref="paper", yref="paper", x0=px(1711), y0=py(2035), x1=px(1704), y1=py(3349), line=red))
shapes.append(dict(type="line", xref="paper", yref="paper", x0=px(3381), y0=py(2035), x1=px(3382), y1=py(3365), line=red))

# ---------------- ggplot-style small panels ----------------
tick_font = dict(family="Liberation Sans, Arial, sans-serif", size=14.2 * S, color="#4D4D4D")
for i, (pts, title, floor, box, xr, yr, xs, ys) in enumerate(PANELS):
    n = i + 2
    l, t, r, b = box
    xa, ya = "x%d" % n, "y%d" % n
    fig.add_trace(go.Scatter(
        x=[p[0] for p in pts], y=[p[1] for p in pts], mode="markers",
        marker=dict(symbol="circle", size=5, color="black"),
        xaxis=xa, yaxis=ya, hoverinfo="skip"))
    xt = major_ticks(xr[0], xr[1], xs)
    yt = major_ticks(yr[0], yr[1], ys)
    common = dict(showgrid=True, gridcolor="white", gridwidth=1.7, zeroline=False, showline=False,
                  ticks="outside", ticklen=3.5, tickwidth=1, tickcolor="#333333", tickfont=tick_font,
                  tickmode="array")
    layout["xaxis%d" % n] = dict(
        domain=[px(l), px(r)], range=list(xr), anchor=ya,
        tickvals=xt, ticktext=[str(int(round(v))) for v in xt],
        minor=dict(tickmode="array", tickvals=minor_ticks(xr[0], xr[1], xs), showgrid=True,
                   gridcolor="white", gridwidth=0.8, ticks=""),
        **common)
    layout["yaxis%d" % n] = dict(
        domain=[py(b), py(t)], range=list(yr), anchor=xa,
        tickvals=yt, ticktext=[str(int(round(v))) for v in yt],
        minor=dict(tickmode="array", tickvals=minor_ticks(yr[0], yr[1], ys), showgrid=True,
                   gridcolor="white", gridwidth=0.8, ticks=""),
        **common)
    shapes.append(dict(type="rect", xref="paper", yref="paper", x0=px(l), x1=px(r), y0=py(b), y1=py(t),
                       fillcolor="#EBEBEB", line=dict(width=0), layer="below"))
    annotations.append(dict(text=title, x=px(l + 1), y=py(t - 17), xref="paper", yref="paper",
                            xanchor="left", yanchor="middle", showarrow=False,
                            font=dict(family="Liberation Sans", size=19.5 * S, color="black")))
    if floor:
        annotations.append(dict(text="<b>%s</b>" % floor, x=px(l - 62), y=py(t - 17), xref="paper", yref="paper",
                                xanchor="left", yanchor="middle", showarrow=False,
                                font=dict(family="Liberation Sans", size=20 * S, color="black")))
    annotations.append(dict(text="LONGITUDE", x=px((l + r) / 2.0), y=py(b + 35), xref="paper", yref="paper",
                            xanchor="center", yanchor="middle", showarrow=False,
                            font=dict(family="Liberation Sans", size=16 * S, color="black")))
    annotations.append(dict(text="LATITUDE", x=px(l - 75), y=py((t + b) / 2.0), xref="paper", yref="paper",
                            xanchor="center", yanchor="middle", showarrow=False, textangle=-90,
                            font=dict(family="Liberation Sans", size=16 * S, color="black")))

layout["shapes"] = shapes
layout["annotations"] = annotations
fig.update_layout(**layout)
fig.write_html("out.html")
